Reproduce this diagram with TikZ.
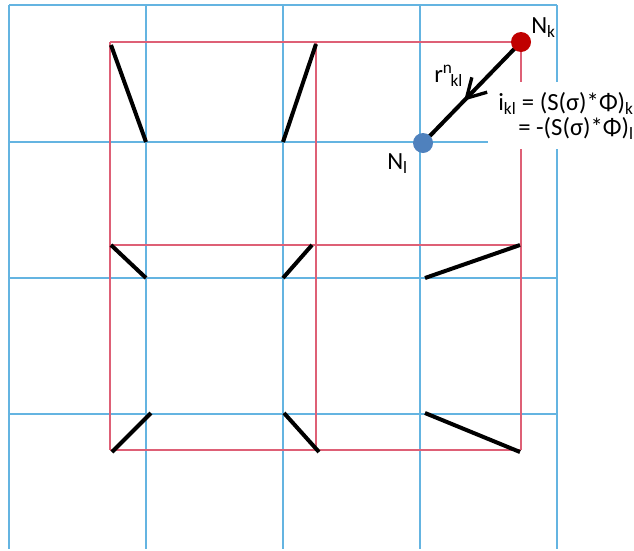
\documentclass[tikz,border=0pt]{standalone}
\usepackage{fontspec}
\setmainfont{Carlito}
\usetikzlibrary{arrows.meta,decorations.markings}
\definecolor{gridblue}{RGB}{100,180,225}
\definecolor{gridred}{RGB}{222,96,118}
\definecolor{dotred}{RGB}{192,0,0}
\definecolor{dotblue}{RGB}{79,129,189}
\begin{document}
\begin{tikzpicture}[x=0.75pt,y=-0.75pt,
  blueline/.style={draw=gridblue,line width=1.5pt},
  redline/.style={draw=gridred,line width=1.5pt},
  stick/.style={draw=black,line width=3pt},
  dot/.style={circle,inner sep=0pt,minimum size=15pt},
  lbl/.style={inner sep=0pt,anchor=base west,font=\fontsize{18.5}{22}\selectfont}]
\useasboundingbox (0,0) rectangle (634,550);
% blue grid
\foreach \x in {9,146,283,420,557} \draw[blueline] (\x,5) -- (\x,549);
\foreach \y in {5,142,278,414} \draw[blueline] (9,\y) -- (557,\y);
% red grid
\foreach \x in {110,316,521} \draw[redline] (\x,42) -- (\x,450);
\foreach \y in {42,245,450} \draw[redline] (110,\y) -- (521,\y);
% sticks
\coordinate (r11) at (111,45);  \coordinate (b11) at (146,142);
\coordinate (r12) at (316,44);  \coordinate (b12) at (283,142);
\coordinate (r21) at (111,245); \coordinate (b21) at (146,278);
\coordinate (r22) at (312,245); \coordinate (b22) at (283,278);
\coordinate (r23) at (520,245); \coordinate (b23) at (425,278);
\coordinate (r31) at (112,452); \coordinate (b31) at (151,413);
\coordinate (r32) at (319,452); \coordinate (b32) at (284,413);
\coordinate (r33) at (520,452); \coordinate (b33) at (425,413);
\foreach \a/\b in {r11/b11,r12/b12,r21/b21,r22/b22,r23/b23,r31/b31,r32/b32,r33/b33}
  \draw[stick] (\a) -- (\b);
% arrow between nodes
\coordinate (k) at (521,42);
\coordinate (l) at (423,143);
\draw[stick,decoration={markings,mark=at position 0.58 with {\arrow{Straight Barb[length=14pt,width=16pt,line width=2.5pt]}}},postaction={decorate}] (k) -- (l);
\node[dot,fill=dotred] (Nk) at (k) {};
\node[dot,fill=dotblue] (Nl) at (l) {};
% labels
\node[lbl] (lk) at (531,33) {N\textsubscript{k}};
\node[lbl] (ll) at (387,169) {N\textsubscript{l}};
\node[lbl] (lr) at (434,82) {r\textsuperscript{n}\kern-1.5pt\textsubscript{kl}};
\node[fill=white,align=right,inner xsep=7.5pt,inner ysep=7.5pt,anchor=north west,
  font=\fontsize{18.5}{18.75}\selectfont] (eq) at (488,82)
  {i\textsubscript{kl} = (S(σ)*Φ)\textsubscript{k}\\ = -(S(σ)*Φ)\textsubscript{l}};
\end{tikzpicture}
\end{document}
